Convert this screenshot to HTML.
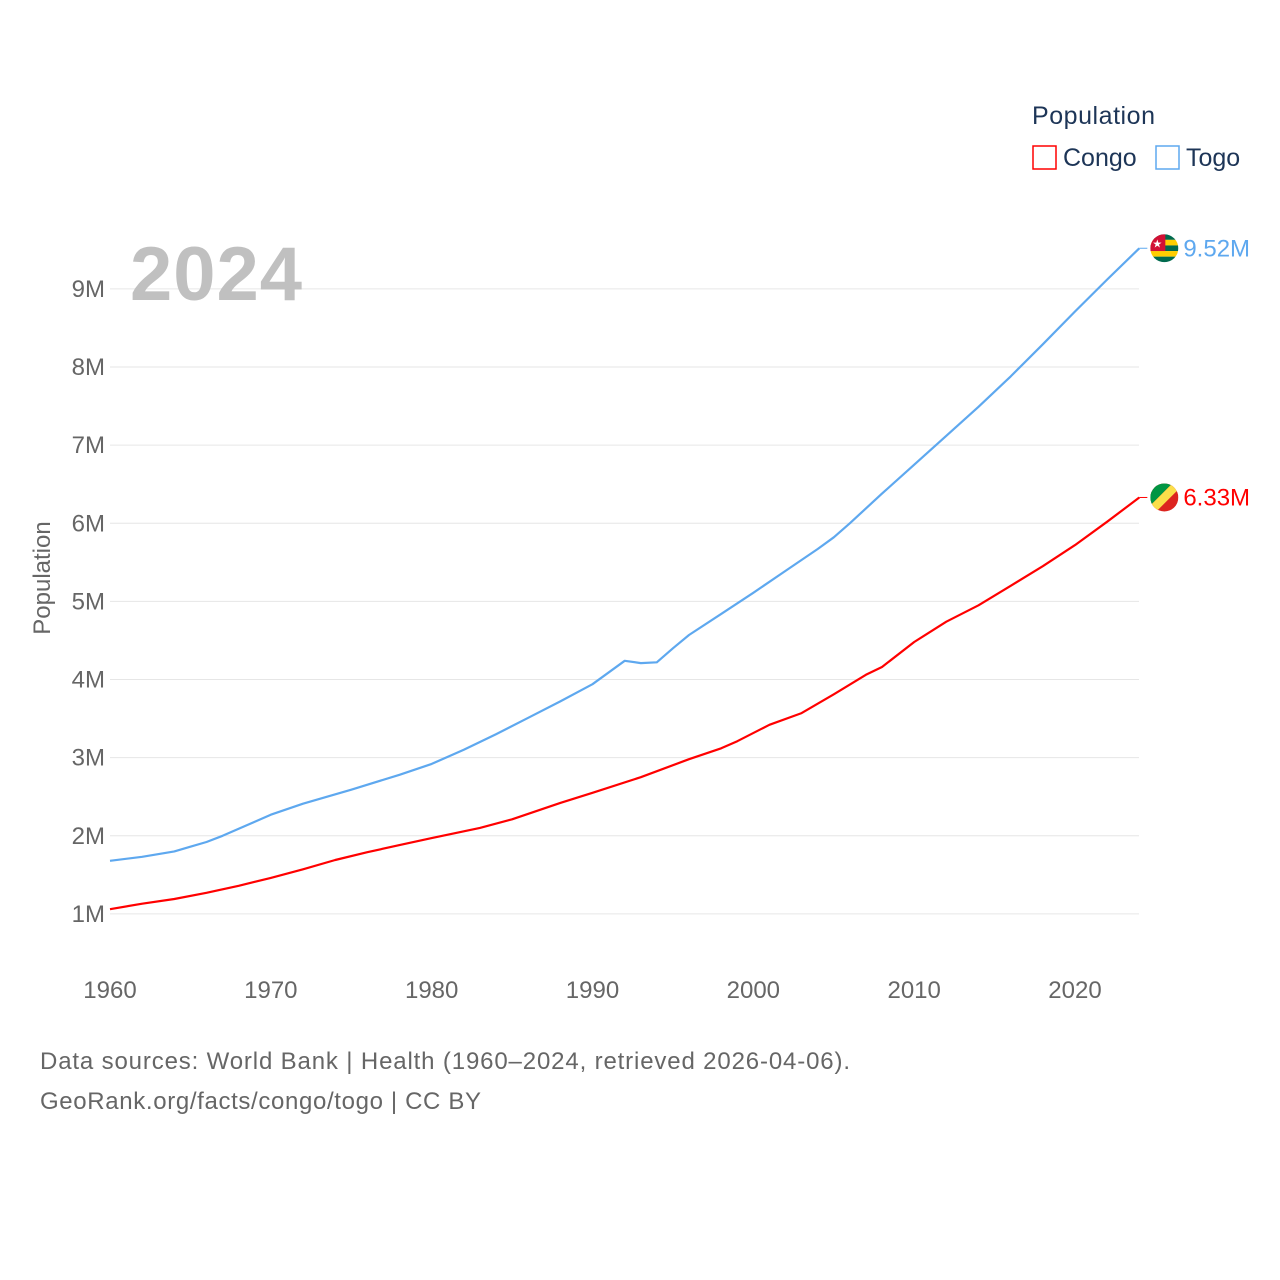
<!DOCTYPE html>
<html><head><meta charset="utf-8">
<style>
body{margin:0;background:#fff;font-family:"Liberation Sans",sans-serif;}
svg{display:block}
</style></head>
<body>
<svg id="chart" width="1280" height="1280">
<g id="grid"></g>
<g id="yticks"></g>
<g id="xticks"></g>
<text x="130" y="300" font-size="76" font-weight="bold" fill="#c0c0c0" textLength="172">2024</text>
<text transform="translate(50,578) rotate(-90)" text-anchor="middle" font-size="24" fill="#666">Population</text>
<g>
<text x="1032" y="124" font-size="25" fill="#1d3557" textLength="123">Population</text>
<g><rect x="1033" y="146" width="23" height="23" fill="none" stroke="#f00" stroke-width="1.5"/><text x="1063" y="166" font-size="25" fill="#1d3557">Congo</text></g>
<g><rect x="1156" y="146" width="23" height="23" fill="none" stroke="#5ea8ef" stroke-width="1.5"/><text x="1186" y="166" font-size="25" fill="#1d3557">Togo</text></g>
</g>
<g id="series"></g>
<text x="40" y="1069" font-size="24" fill="#666" textLength="810">Data sources: World Bank | Health (1960–2024, retrieved 2026-04-06).</text>
<text x="40" y="1109" font-size="24" fill="#666" textLength="441">GeoRank.org/facts/congo/togo | CC BY</text>
</svg>
<script>
const yTicks=[1,2,3,4,5,6,7,8,9];
const xTicks=[1960,1970,1980,1990,2000,2010,2020];
const togoYears=[1960,1962,1964,1965,1966,1967,1968,1969,1970,1972,1975,1978,1980,1982,1984,1986,1988,1990,1992,1993,1994,1995,1996,1998,2000,2002,2004,2005,2006,2008,2010,2012,2014,2016,2018,2020,2022,2024];
const togoValues=[1.68,1.73,1.80,1.86,1.92,2.00,2.09,2.18,2.27,2.41,2.59,2.78,2.92,3.10,3.30,3.51,3.72,3.94,4.24,4.21,4.22,4.40,4.57,4.84,5.11,5.39,5.67,5.82,6.00,6.38,6.75,7.12,7.49,7.88,8.29,8.71,9.12,9.52];
const congoYears=[1960,1962,1964,1966,1968,1970,1972,1974,1976,1978,1980,1983,1985,1988,1990,1993,1996,1998,1999,2001,2003,2005,2007,2008,2010,2012,2014,2016,2018,2020,2022,2024];
const congoValues=[1.06,1.13,1.19,1.27,1.36,1.46,1.57,1.69,1.79,1.88,1.97,2.10,2.21,2.42,2.55,2.75,2.98,3.12,3.21,3.42,3.57,3.81,4.06,4.16,4.48,4.74,4.95,5.20,5.45,5.72,6.02,6.33];
const NS='http://www.w3.org/2000/svg';
const xS=y=>110+(y-1960)*(1075-110)/60;
const yS=v=>992-v*78.125;
function mk(tag,attrs,parent){const e=document.createElementNS(NS,tag);for(const k in attrs)e.setAttribute(k,attrs[k]);parent.appendChild(e);return e;}
const grid=document.getElementById('grid'),yt=document.getElementById('yticks'),xt=document.getElementById('xticks'),ser=document.getElementById('series');
yTicks.forEach(v=>{
 const l=mk('line',{x1:110,x2:1139,y1:yS(v),y2:yS(v),stroke:'#e6e6e6','stroke-width':1},grid);
 
 
 const t=mk('text',{x:105,y:yS(v)+8,'text-anchor':'end','font-size':24,fill:'#666'},yt);
 t.textContent=v+'M';
 
 
});
xTicks.forEach(y=>{
 const t=mk('text',{x:xS(y),y:998,'text-anchor':'middle','font-size':24,fill:'#666'},xt);
 t.textContent=y;
 
 
});
function line(years,vals,color,name){
 const d=years.map((y,i)=>(i?'L':'M')+xS(y).toFixed(1)+','+yS(vals[i]).toFixed(1)).join('');
 const p=mk('path',{d:d,fill:'none',stroke:color,'stroke-width':2.2,'stroke-linejoin':'round'},ser);
 
 
 const lx=xS(years[years.length-1]),ly=yS(vals[vals.length-1]);
 const c=mk('line',{x1:lx,y1:ly,x2:lx+8,y2:ly,stroke:color,'stroke-width':1},ser);
 
 
 const t=mk('text',{x:lx+44,y:ly+8,'font-size':24,fill:color},ser);
 t.textContent=vals[vals.length-1].toFixed(2)+'M';
 
 
 return [lx+25,ly];
}
const tp=line(togoYears,togoValues,'#5ea8ef','togo');
const cp=line(congoYears,congoValues,'#f00','congo');
(function(){
 const g=mk('g',{},ser);
 const cl=mk('clipPath',{id:'tclip'},g);mk('circle',{cx:tp[0],cy:tp[1],r:14},cl);
 const gg=mk('g',{'clip-path':'url(#tclip)'},g);
 for(let i=0;i<5;i++)mk('rect',{x:tp[0]-14,y:tp[1]-14+i*5.6,width:28,height:5.6,fill:i%2?'#ffce00':'#006a4e'},gg);
 mk('rect',{x:tp[0]-14,y:tp[1]-14,width:15,height:16.8,fill:'#d21034'},gg);
 const s=mk('text',{x:tp[0]-7,y:tp[1]-1,'font-size':11,fill:'#fff','text-anchor':'middle'},gg);s.textContent='★';
})();
(function(){
 const g=mk('g',{},ser);
 const cl=mk('clipPath',{id:'cclip'},g);mk('circle',{cx:cp[0],cy:cp[1],r:14},cl);
 const gg=mk('g',{'clip-path':'url(#cclip)'},g);
 const x=cp[0]-14,y=cp[1]-14;
 mk('rect',{x:x,y:y,width:28,height:28,fill:'#dc241f'},gg);
 mk('polygon',{points:`${x},${y} ${x+22},${y} ${x},${y+22}`,fill:'#009543'},gg);
 mk('polygon',{points:`${x+22},${y} ${x+28},${y} ${x+28},${y+6} ${x+6},${y+28} ${x},${y+28} ${x},${y+22}`,fill:'#fbde4a'},gg);
})();
</script>
</body></html>
